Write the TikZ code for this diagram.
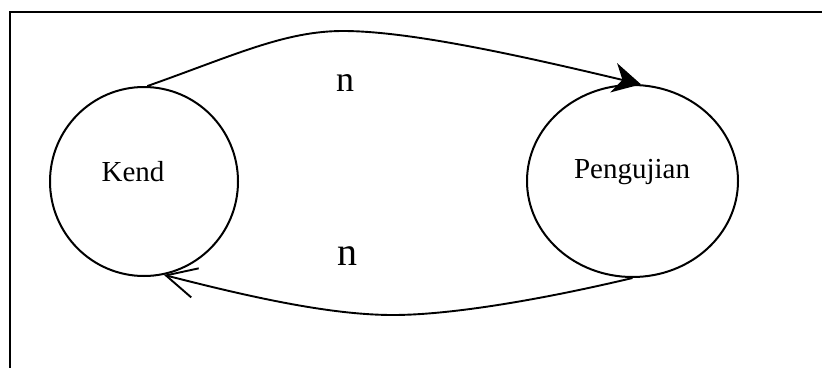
\documentclass[tikz,border=0pt]{standalone}
\usepackage{fontspec}
\setmainfont{Liberation Serif}
\usetikzlibrary{shapes.geometric,arrows.meta}
\begin{document}
\begin{tikzpicture}[x=1pt,y=-1pt,
  state/.style={draw,ellipse,line width=2pt,inner sep=0pt},
  lbl/.style={inner sep=0pt,font=\fontsize{29}{32}\selectfont},
  edge/.style={line width=1.9pt},
  frame/.style={line width=2.6pt}]
\useasboundingbox (0,0) rectangle (822,367);
\draw[frame] (10,372) -- (10,12) -- (830,12);
\node[state,minimum width=188pt,minimum height=189pt] (kend) at (144,181.5) {};
\node[state,minimum width=211pt,minimum height=192pt] (peng) at (632.5,181) {};
\node[lbl] (kendt) at (133,172) {Kend};
\node[lbl] (pengt) at (632,172) {Pengujian};
\node[inner sep=0pt,font=\fontsize{36}{40}\selectfont] (ntop) at (345,83) {n};
\node[inner sep=0pt,font=\fontsize{40}{44}\selectfont] (nbot) at (347,256) {n};
\draw[edge,-{Stealth[length=28pt,width=30pt,inset=9pt]}]
  (kend.88) .. controls (235,55) and (285,31) .. (343,31)
  .. controls (410,31) and (522,56) .. (peng.85);
\draw[edge,-{Straight Barb[length=30pt,width=30pt,line width=1.9pt]}]
  (peng.south) .. controls (540,300) and (450,315) .. (393,315)
  .. controls (330,315) and (250,297) .. (kend.-78);
\end{tikzpicture}
\end{document}
